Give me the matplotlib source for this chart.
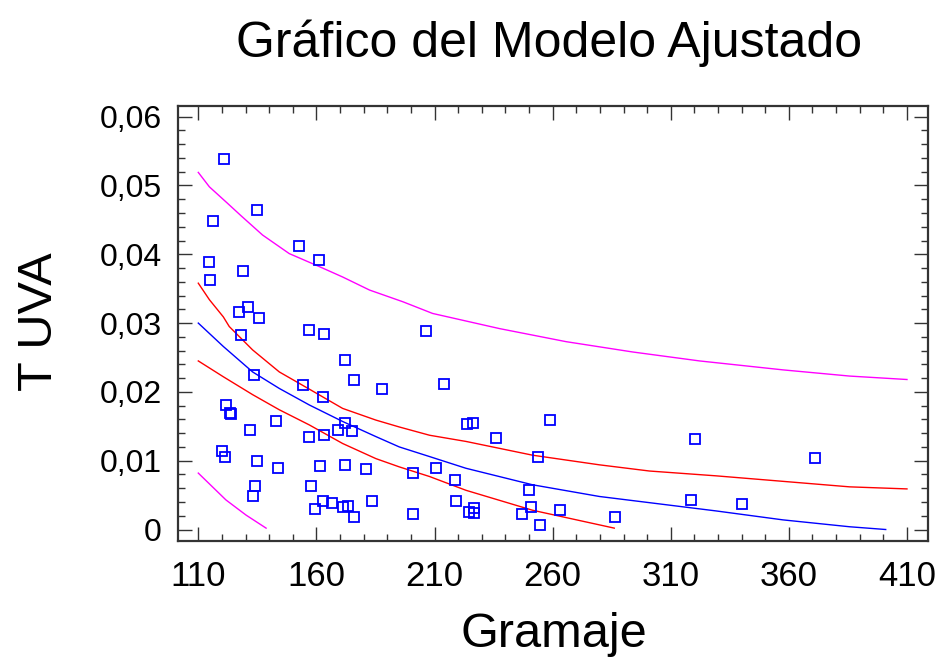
import matplotlib
matplotlib.use("Agg")
import matplotlib.pyplot as plt
from matplotlib.ticker import FixedLocator, MultipleLocator

plt.rcParams['font.family'] = ['Liberation Sans', 'DejaVu Sans']

gramaje = [121.0, 134.7, 116.4, 152.8, 161.3, 114.4, 128.8, 115.0, 127.1, 131.2,
           135.9, 157.0, 163.4, 206.2, 128.2, 171.9, 176.1, 187.8, 133.7, 154.5,
           163.0, 121.7, 123.4, 124.0, 143.0, 131.7, 157.0, 163.4, 169.0, 171.9,
           174.9, 119.9, 121.1, 134.7, 143.7, 161.7, 171.9, 180.8, 201.1, 134.2,
           133.0, 157.6, 159.3, 163.0, 166.5, 171.4, 173.5, 176.1, 183.7, 201.1,
           214.2, 223.8, 226.2, 236.2, 258.9, 253.6, 210.6, 218.5, 219.2, 224.5,
           226.9, 226.9, 250.1, 250.7, 247.1, 254.7, 263.2, 286.5, 320.3, 318.7,
           371.1, 340.1]
tuva = [0.0538, 0.0464, 0.0448, 0.0412, 0.0391, 0.0389, 0.0375, 0.0363, 0.0316, 0.0323,
        0.0307, 0.0290, 0.0284, 0.0288, 0.0283, 0.0246, 0.0218, 0.0204, 0.0224, 0.0210,
        0.0192, 0.0181, 0.0169, 0.0168, 0.0157, 0.0145, 0.0135, 0.0137, 0.0145, 0.0155,
        0.0143, 0.0114, 0.0106, 0.0100, 0.0089, 0.0092, 0.0094, 0.0088, 0.0082, 0.0063,
        0.0049, 0.0063, 0.0030, 0.0041, 0.0039, 0.0033, 0.0034, 0.0018, 0.0041, 0.0023,
        0.0212, 0.0153, 0.0155, 0.0133, 0.0159, 0.0106, 0.0090, 0.0072, 0.0041, 0.0025,
        0.0031, 0.0024, 0.0057, 0.0033, 0.0023, 0.0006, 0.0028, 0.0018, 0.0131, 0.0043,
        0.0104, 0.0037]

# fitted model (blue)
fit_x = [110, 120.6, 133, 144.3, 157, 171.1, 185.2, 195.1, 207.9, 223.3, 251.5,
         279.8, 301, 329.2, 357.5, 385.7, 401]
fit_y = [0.0300, 0.0266, 0.0229, 0.0205, 0.0181, 0.0157, 0.0135, 0.0120, 0.0106,
         0.0089, 0.0065, 0.0048, 0.0039, 0.0027, 0.0014, 0.0004, 0.0]

# confidence limits (red)
conf_up_x = [110, 114.7, 120.6, 123.1, 133, 144.3, 157, 171.1, 185.2, 195.1, 207.9,
             223.3, 251.5, 279.8, 301, 329.2, 357.5, 385.7, 410]
conf_up_y = [0.0358, 0.0334, 0.0309, 0.0295, 0.0261, 0.0229, 0.0204, 0.0176, 0.0159,
             0.0149, 0.0137, 0.0128, 0.0108, 0.0094, 0.0085, 0.0078, 0.0070, 0.0062, 0.0059]
conf_lo_x = [110, 120.6, 133, 144.3, 157, 171.1, 185.2, 195.1, 207.9, 223.3, 251.5, 286.1]
conf_lo_y = [0.0245, 0.0222, 0.0196, 0.0174, 0.0152, 0.0125, 0.0103, 0.0091, 0.0077,
             0.0057, 0.0028, 0.0002]

# prediction limits (magenta)
pred_up_x = [110, 114.7, 122.4, 128.1, 137.2, 148.5, 161.3, 171.1, 182.5, 196.6, 209.2,
             237.5, 265.7, 293.9, 322.2, 357.5, 385.7, 410]
pred_up_y = [0.0519, 0.0498, 0.0474, 0.0456, 0.0428, 0.0401, 0.0382, 0.0367, 0.0348,
             0.0331, 0.0314, 0.0292, 0.0273, 0.0258, 0.0245, 0.0232, 0.0223, 0.0218]
pred_lo_x = [110, 121.7, 130.2, 138.7]
pred_lo_y = [0.0082, 0.0043, 0.0021, 0.0002]

x_ticks = [110, 160, 210, 260, 310, 360, 410]
x_tick_labels = ["110", "160", "210", "260", "310", "360", "410"]
y_ticks = [0, 0.01, 0.02, 0.03, 0.04, 0.05, 0.06]
y_tick_labels = ["0", "0,01", "0,02", "0,03", "0,04", "0,05", "0,06"]

W, H = 941, 660
fig = plt.figure(figsize=(W / 100, H / 100), dpi=100)
ax = fig.add_axes([177.5 / W, 1 - 541 / H, 750.5 / W, 435 / H])

ax.plot(pred_up_x, pred_up_y, color='#ff00ff', lw=1)
ax.plot(pred_lo_x, pred_lo_y, color='#ff00ff', lw=1)
ax.plot(conf_up_x, conf_up_y, color='#ff0000', lw=1)
ax.plot(conf_lo_x, conf_lo_y, color='#ff0000', lw=1)
ax.plot(fit_x, fit_y, color='#0000ff', lw=1)
ax.plot(gramaje, tuva, 's', mfc='none', mec='#0000ff', ms=7, mew=1.3)

ax.set_xlim(101.2, 418.9)
ax.set_ylim(-0.00167, 0.06155)

ax.xaxis.set_major_locator(FixedLocator(x_ticks))
ax.set_xticklabels(x_tick_labels)
ax.xaxis.set_minor_locator(MultipleLocator(10))
ax.yaxis.set_major_locator(FixedLocator(y_ticks))
ax.set_yticklabels(y_tick_labels)
ax.yaxis.set_minor_locator(MultipleLocator(0.002))

ax.tick_params(which='both', direction='in', top=True, right=True, color='#333333')
ax.tick_params(which='major', length=10, width=1)
ax.tick_params(which='minor', length=5, width=1)
ax.tick_params(axis='x', labelsize=25, pad=14)
ax.tick_params(axis='y', labelsize=23, pad=11.5)
for sp in ax.spines.values():
    sp.set_linewidth(1.6)
    sp.set_color('#333333')

fig.text(549.5 / W, 1 - 57 / H, "Gráfico del Modelo Ajustado", fontsize=36,
         ha='center', va='baseline')
fig.text(553.5 / W, 1 - 647 / H, "Gramaje", fontsize=35, ha='center', va='baseline')
fig.text(52 / W, 1 - 322 / H, "T UVA", fontsize=35, rotation=90,
         rotation_mode='anchor', ha='center', va='baseline')

fig.savefig("out.png", dpi=100)
